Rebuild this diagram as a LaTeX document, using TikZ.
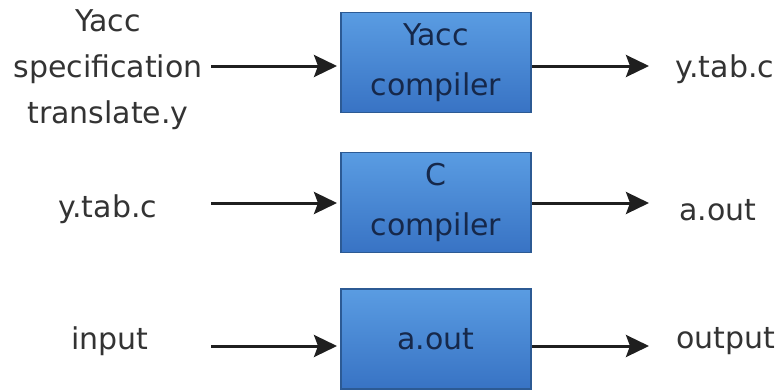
\documentclass[tikz,border=0pt]{standalone}
\usepackage{fontspec}
\setmainfont{DejaVu Sans}
\usetikzlibrary{arrows.meta}
\definecolor{txt}{HTML}{333333}
\definecolor{boxtxt}{HTML}{16284A}
\definecolor{boxtop}{HTML}{5A9CE2}
\definecolor{boxbot}{HTML}{3873C4}
\definecolor{boxline}{HTML}{2C5A94}
\tikzset{
  proc/.style={draw=boxline, line width=1.2pt, top color=boxtop, bottom color=boxbot,
    minimum width=190pt, minimum height=100pt, inner sep=0pt, text=boxtxt,
    font=\fontsize{30}{50}\selectfont, align=center},
  lbl/.style={text=txt, font=\fontsize{30}{46}\selectfont, align=center, inner sep=0pt},
  flow/.style={line width=3pt, draw=black!88, -{Stealth[length=23pt,width=22pt,inset=4pt]}}
}
\begin{document}
\begin{tikzpicture}[x=1pt,y=-1pt]
\useasboundingbox (0,0) rectangle (782,391);
% boxes
\node[proc] (b1) at (436,62.5) {Yacc\\compiler};
\node[proc] (b2) at (436,202.5) {C\\compiler};
\node[proc] (b3) at (436,339) {a.out};
% left labels
\node[lbl] (l1) at (108,70) {Yacc\\specification\\translate.y};
\node[lbl] (l2) at (108,209) {y.tab.c};
\node[lbl] (l3) at (110,341) {input};
% right labels
\node[lbl] (r1) at (725,69) {y.tab.c};
\node[lbl] (r2) at (718,210) {a.out};
\node[lbl] (r3) at (726,341) {output};
% arrow anchors
\coordinate (s1) at (211,66);
\coordinate (s2) at (211,203);
\coordinate (s3) at (211,346);
\coordinate (e1) at (337,66);
\coordinate (e2) at (337,203);
\coordinate (e3) at (337,346);
\coordinate (t1) at (532,66);
\coordinate (t2) at (532,203);
\coordinate (t3) at (532,346);
\coordinate (u1) at (649,66);
\coordinate (u2) at (649,203);
\coordinate (u3) at (649,346);
\draw[flow] (s1) -- (e1);
\draw[flow] (s2) -- (e2);
\draw[flow] (s3) -- (e3);
\draw[flow] (t1) -- (u1);
\draw[flow] (t2) -- (u2);
\draw[flow] (t3) -- (u3);
\end{tikzpicture}
\end{document}
